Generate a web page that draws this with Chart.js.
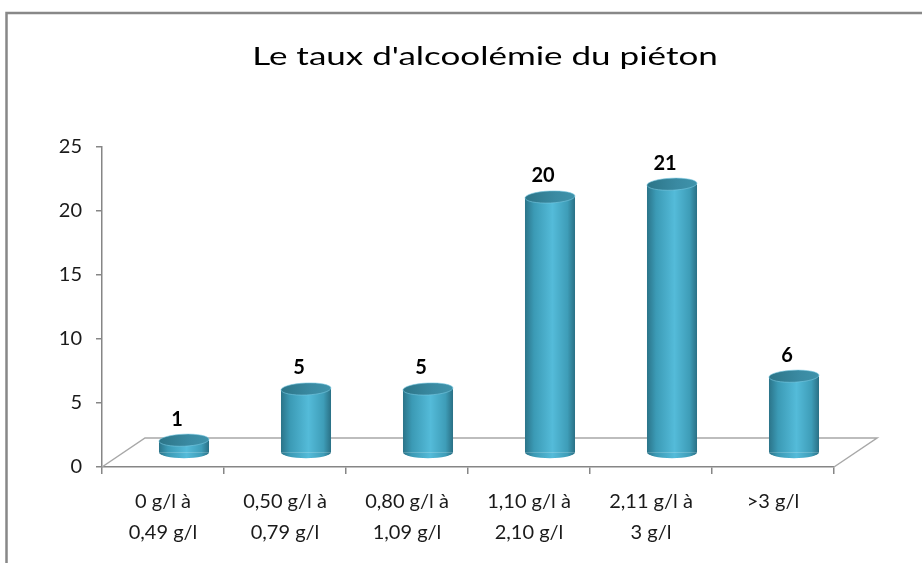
<!DOCTYPE html>
<html>
<head>
<meta charset="utf-8">
<script src="https://cdn.jsdelivr.net/npm/chart.js@4/dist/chart.umd.min.js"></script>
<style>
  html, body { margin: 0; padding: 0; background: #fff; }
  #wrap { width: 922px; height: 563px; position: relative; }
</style>
</head>
<body>
<div id="wrap"><canvas id="myChart"></canvas></div>
<script>
// data
var categories = [
  ["0 g/l à", "0,49 g/l"],
  ["0,50 g/l à", "0,79 g/l"],
  ["0,80 g/l à", "1,09 g/l"],
  ["1,10 g/l à", "2,10 g/l"],
  ["2,11 g/l à", "3 g/l"],
  [">3 g/l"]
];
var values = [1, 5, 5, 20, 21, 6];
var yTicks = [0, 5, 10, 15, 20, 25];
var chartTitle = "Le taux d'alcoolémie du piéton";

// fake 3d depth of the floor, bars sit in the middle of it
var DEPTH_X = 43, DEPTH_Y = 29;
var BAR_X = 21, BAR_Y = 14;
var RY = 6;
var BAR_PCT = 0.41;

function sideGradient(ctx, cx, half) {
  var g = ctx.createLinearGradient(cx - half, 0, cx + half, 0);
  g.addColorStop(0, '#2b7489');
  g.addColorStop(0.18, '#3b9ab5');
  g.addColorStop(0.55, '#54bbd9');
  g.addColorStop(0.85, '#3e9db8');
  g.addColorStop(1, '#2a7085');
  return g;
}

function topGradient(ctx, cx, half) {
  var g = ctx.createLinearGradient(cx - half, 0, cx + half, 0);
  g.addColorStop(0, '#2c7588');
  g.addColorStop(0.6, '#3a8aa2');
  g.addColorStop(1, '#3f93ab');
  return g;
}

function bodyFill(c) {
  var chart = c.chart;
  var xs = chart.scales.x;
  if (!xs || c.dataIndex === undefined) return '#4aaecd';
  var cx = xs.getPixelForValue(c.dataIndex);
  var half = xs.width / categories.length * BAR_PCT / 2;
  if (!isFinite(cx) || !isFinite(half) || half <= 0) return '#4aaecd';
  return sideGradient(chart.ctx, cx, half);
}

var frameAndFloor = {
  id: 'frameAndFloor',
  beforeDraw: function (chart) {
    var ctx = chart.ctx;
    ctx.save();
    ctx.fillStyle = '#fff';
    ctx.fillRect(0, 0, chart.width, chart.height);
    ctx.strokeStyle = '#888888';
    ctx.lineWidth = 2.5;
    ctx.strokeRect(6.5, 13, chart.width + 20, chart.height + 20);
    // title, the source renders it wide so stretch it a bit
    ctx.translate(485, 65);
    ctx.scale(1.4, 1);
    ctx.fillStyle = '#000';
    ctx.font = '25px Lato';
    ctx.textAlign = 'center';
    ctx.textBaseline = 'alphabetic';
    ctx.fillText(chartTitle, 0, 0);
    ctx.restore();
  },
  beforeDatasetsDraw: function (chart) {
    var ctx = chart.ctx;
    var a = chart.chartArea;
    ctx.save();
    ctx.strokeStyle = '#a8a8a8';
    ctx.lineWidth = 1.5;
    ctx.beginPath();
    ctx.moveTo(a.left, a.bottom);
    ctx.lineTo(a.left + DEPTH_X, a.bottom - DEPTH_Y);
    ctx.lineTo(a.right + DEPTH_X, a.bottom - DEPTH_Y);
    ctx.lineTo(a.right, a.bottom);
    ctx.stroke();
    ctx.restore();
    ctx.save();
    ctx.translate(BAR_X, -BAR_Y);
  },
  afterDatasetsDraw: function (chart) {
    var ctx = chart.ctx;
    var meta = chart.getDatasetMeta(0);
    meta.data.forEach(function (el, i) {
      var half = el.width / 2;
      // bottom rim
      ctx.beginPath();
      ctx.ellipse(el.x, el.base, half, RY, 0, 0, Math.PI);
      ctx.fillStyle = sideGradient(ctx, el.x, half);
      ctx.fill();
      // top lid
      ctx.beginPath();
      ctx.ellipse(el.x, el.y, half, RY, -0.04, 0, Math.PI * 2);
      ctx.fillStyle = topGradient(ctx, el.x, half);
      ctx.fill();
      ctx.strokeStyle = 'rgba(120,200,225,0.6)';
      ctx.lineWidth = 1;
      ctx.stroke();
      // value label
      ctx.fillStyle = '#000';
      ctx.font = 'bold 20px Lato';
      ctx.textAlign = 'center';
      ctx.textBaseline = 'middle';
      ctx.fillText(String(values[i]), el.x - 7, el.y - 21);
    });
    ctx.restore();
  }
};

new Chart(document.getElementById('myChart'), {
  type: 'bar',
  data: {
    labels: categories,
    datasets: [{
      data: values,
      backgroundColor: bodyFill,
      borderWidth: 0,
      barPercentage: BAR_PCT,
      categoryPercentage: 1,
      clip: false
    }]
  },
  options: {
    responsive: true,
    maintainAspectRatio: false,
    animation: false,
    events: [],
    layout: { padding: { left: 0, right: 88, top: 147, bottom: 0 } },
    plugins: {
      legend: { display: false },
      tooltip: { enabled: false },
      title: { display: false }
    },
    scales: {
      x: {
        grid: { display: true, drawOnChartArea: false, offset: true, tickLength: 7, color: '#868686', lineWidth: 1.5 },
        border: { color: '#868686', width: 1.5 },
        ticks: { color: '#1a1a1a', font: { family: 'Lato', size: 20, lineHeight: 1.55 }, padding: 12, maxRotation: 0, autoSkip: false },
        afterFit: function (s) { s.height = 96; }
      },
      y: {
        min: 0,
        max: 25,
        afterBuildTicks: function (s) { s.ticks = yTicks.map(function (v) { return { value: v }; }); },
        grid: { display: true, drawOnChartArea: false, tickLength: 6, color: '#868686', lineWidth: 1.5 },
        border: { color: '#868686', width: 1.5 },
        ticks: { color: '#1a1a1a', font: { family: 'Lato', size: 20 }, padding: 14 },
        afterFit: function (s) { s.width = 102; }
      }
    }
  },
  plugins: [frameAndFloor]
});
</script>
</body>
</html>
